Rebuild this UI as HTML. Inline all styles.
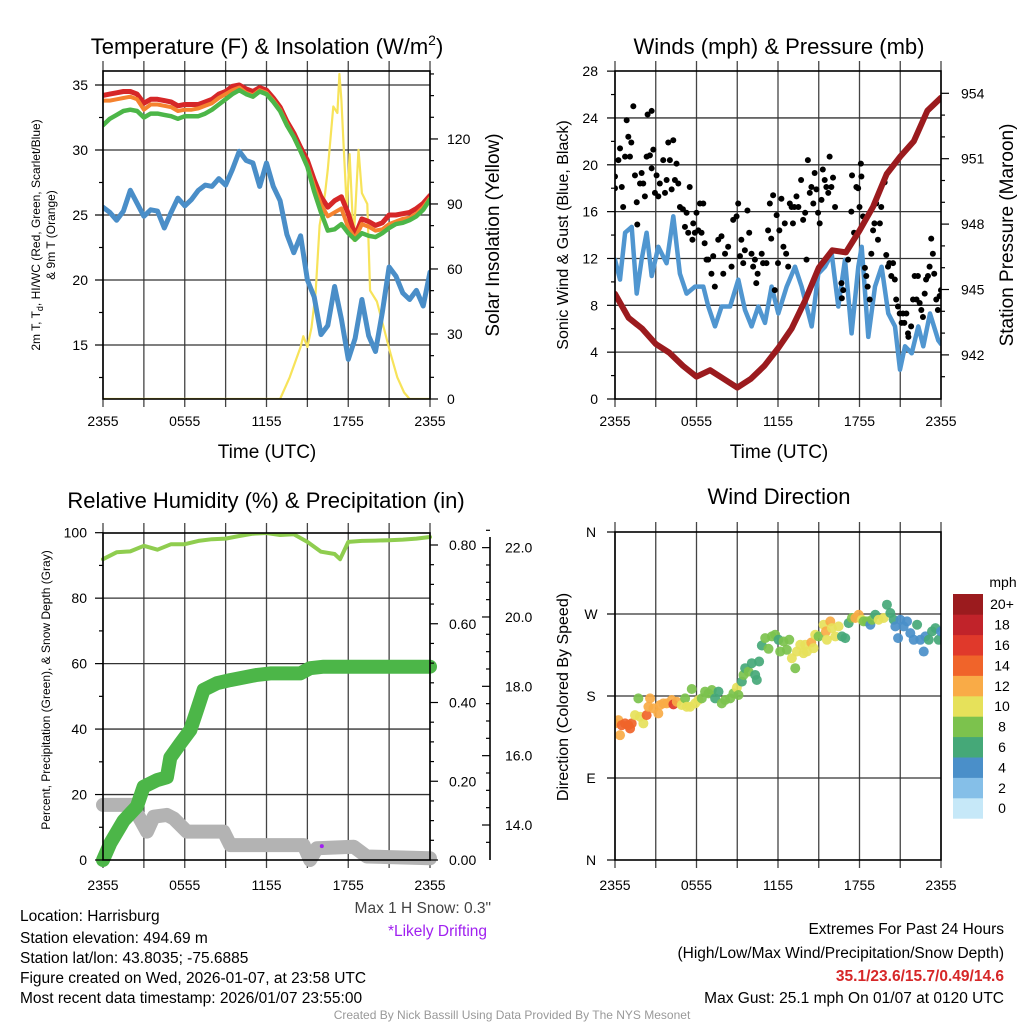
<!DOCTYPE html>
<html><head><meta charset="utf-8"><style>
html,body{margin:0;padding:0;background:#fff;}
svg{display:block;font-family:"Liberation Sans",sans-serif;}
</style></head><body>
<svg id="chart" width="1024" height="1024" viewBox="0 0 1024 1024" xmlns="http://www.w3.org/2000/svg">
<defs>
<clipPath id="c1"><rect x="103" y="71" width="327" height="328"/></clipPath>
<clipPath id="c2"><rect x="615" y="71" width="326" height="328"/></clipPath>
<clipPath id="c3"><rect x="90" y="533" width="355" height="335"/></clipPath>
<clipPath id="c4"><rect x="615" y="532" width="326" height="328"/></clipPath>
</defs>
<g id="g1"></g>
<g id="g2"></g>
<g id="g3"></g>
<g id="g4"></g>
<g font-size="22" text-anchor="middle" fill="#000">
<text x="267" y="54">Temperature (F) &amp; Insolation (W/m<tspan font-size="14" dy="-9">2</tspan><tspan dy="9">)</tspan></text>
<text x="779" y="54">Winds (mph) &amp; Pressure (mb)</text>
<text x="266" y="508">Relative Humidity (%) &amp; Precipitation (in)</text>
<text x="779" y="504">Wind Direction</text>
</g>
<g font-size="19" text-anchor="middle">
<text x="267" y="458">Time (UTC)</text>
<text x="779" y="458">Time (UTC)</text>
<text transform="translate(499,235) rotate(-90)">Solar Insolation (Yellow)</text>
<text transform="translate(1013,235) rotate(-90)">Station Pressure (Maroon)</text>
</g>
<g font-size="16" text-anchor="middle">
<text transform="translate(568,235) rotate(-90)">Sonic Wind &amp; Gust (Blue, Black)</text>
<text transform="translate(568,697) rotate(-90)">Direction (Colored By Speed)</text>
</g>
<g font-size="12" text-anchor="middle">
<text transform="translate(40,235) rotate(-90)">2m T, T<tspan font-size="9" dy="3">d</tspan><tspan dy="-3">, HI/WC (Red, Green, Scarlet/Blue)</tspan></text>
<text transform="translate(55,235) rotate(-90)">&amp; 9m T (Orange)</text>
<text transform="translate(50,690) rotate(-90)">Percent, Precipitation (Green), &amp; Snow Depth (Gray)</text>
</g>
<g font-size="15.5" fill="#000">
<text x="20" y="921">Location: Harrisburg</text>
<text x="20" y="943">Station elevation: 494.69 m</text>
<text x="20" y="963">Station lat/lon: 43.8035; -75.6885</text>
<text x="20" y="983">Figure created on Wed, 2026-01-07, at 23:58 UTC</text>
<text x="20" y="1003">Most recent data timestamp: 2026/01/07 23:55:00</text>
<text x="491" y="913" text-anchor="end" fill="#444">Max 1 H Snow: 0.3"</text>
<text x="487" y="936" text-anchor="end" fill="#a020f0">*Likely Drifting</text>
<text x="1004" y="934" text-anchor="end">Extremes For Past 24 Hours</text>
<text x="1004" y="958" text-anchor="end">(High/Low/Max Wind/Precipitation/Snow Depth)</text>
<text x="1004" y="981" text-anchor="end" fill="#d62728" font-weight="bold">35.1/23.6/15.7/0.49/14.6</text>
<text x="1004" y="1003" text-anchor="end">Max Gust: 25.1 mph On 01/07 at 0120 UTC</text>
</g>
<text x="512" y="1019" font-size="12" text-anchor="middle" fill="#999">Created By Nick Bassill Using Data Provided By The NYS Mesonet</text>
</svg>
<script>
// ---- Temperature panel data ----
const tempHours = [0,0.5,1,1.5,2,2.5,3,3.5,4,4.5,5,5.5,6,6.5,7,7.5,8,8.5,9,9.5,10,10.5,11,11.5,12,12.5,13,13.5,14,14.5,15,15.5,16,16.5,17,17.5,18,18.5,19,19.5,20,20.5,21,21.5,22,22.5,23,23.5,24];
const temp2m = [34.2,34.3,34.4,34.5,34.5,34.3,33.6,33.9,33.9,33.8,33.7,33.4,33.5,33.5,33.5,33.7,33.9,34.3,34.5,34.9,35.0,34.7,34.5,34.8,34.6,34.0,33.3,32.2,31.3,30.2,29.2,27.7,26.4,25.6,26.1,26.4,25.1,23.4,24.7,24.5,24.2,24.4,25.0,25.0,25.1,25.2,25.5,25.9,26.5];
const temp9m = [33.8,33.8,33.9,34.0,34.1,33.9,33.1,33.5,33.5,33.4,33.3,33.0,33.1,33.1,33.2,33.4,33.6,34.0,34.3,34.6,34.8,34.4,34.2,34.6,34.4,33.8,33.1,32.0,31.0,29.9,28.8,27.2,25.8,24.9,25.2,25.5,24.0,23.2,24.3,24.1,23.8,23.9,24.3,24.5,24.7,24.8,25.1,25.6,26.3];
const windChill = [31.9,32.4,32.7,33.0,33.1,33.0,32.5,32.8,32.8,32.7,32.6,32.4,32.6,32.6,32.6,32.8,33.1,33.5,33.9,34.3,34.6,34.3,34.1,34.5,34.3,33.7,33.0,31.9,31.0,29.9,28.7,26.8,25.2,23.8,23.9,24.3,23.6,23.1,23.6,23.4,23.3,23.6,24.0,24.3,24.4,24.6,24.9,25.4,26.2];
const dewPoint = [25.6,25.2,24.6,25.3,26.9,25.9,24.9,25.4,25.3,24.0,25.2,26.3,25.7,26.2,26.9,27.3,27.2,27.8,27.3,28.5,29.9,29.2,29.0,27.2,29.0,27.2,26.1,23.5,22.1,23.4,20.0,18.7,15.8,16.5,19.5,17.0,13.9,15.5,18.5,15.7,14.5,17.5,21.0,20.3,19.0,18.5,19.2,18.0,20.6];
const solarHours = [0,13,13.7,14.5,14.7,15.0,15.3,15.6,15.9,16.3,16.5,16.9,17.2,17.35,17.5,17.65,17.9,18.1,18.4,18.75,19.0,19.4,19.6,20.1,20.6,21.1,21.6,22.1,22.5,24];
const solarValues = [0,0,10,24,29,24,33,49,80,95,106,135,132,150,138,118,87,113,73,115,95,90,50,45,33,21,10,3,0,0];
const tempTicks = [15,20,25,30,35];
const solarTicks = [0,30,60,90,120];
const timeTickLabels = ["2355","0555","1155","1755","2355"];
const timeTickHours = [0,6,12,18,24];
// ---- Winds panel data ----
const windHours = [0,0.37,0.74,1.23,1.6,1.96,2.33,2.7,3.19,3.8,4.29,4.78,5.27,5.89,6.5,6.87,7.36,7.85,8.47,9.08,9.57,10.06,10.55,11.04,11.53,12.02,12.64,13.25,13.74,14.48,14.97,15.46,15.95,16.44,16.93,17.42,17.91,18.16,18.65,19.14,19.63,20.12,20.61,20.98,21.35,21.84,22.33,22.7,23.19,23.8,24];
const windSpeed = [11.9,10.2,14.2,14.7,9.0,11.9,14.2,10.5,13.0,11.6,15.6,10.7,9.0,9.6,9.6,7.9,6.2,7.9,7.9,10.2,7.6,6.2,7.9,6.5,9.6,7.3,9.6,11.3,9.6,6.2,10.7,11.3,12.4,7.9,11.9,5.6,11.3,13.0,5.3,9.6,11.3,7.3,6.2,2.5,4.5,3.9,6.2,4.5,7.3,5.0,4.7];
const gustHours = [0,0,0.25,0.37,0.5,0.6,0.74,0.86,0.98,1.1,1.2,1.35,1.47,1.6,1.64,1.84,1.96,2.08,2.2,2.33,2.4,2.57,2.7,2.82,2.7,2.94,3.06,3.19,3.3,3.55,3.68,3.8,3.92,4.04,4.17,4.29,4.41,4.53,4.66,4.78,5.0,5.15,5.27,5.39,5.5,5.7,5.76,5.88,6.0,6.13,6.25,6.37,6.5,6.6,6.74,6.86,7.1,7.23,7.35,7.6,7.84,7.97,8.1,8.33,8.58,8.7,8.95,9.07,9.2,9.3,9.44,9.56,9.75,9.88,10.05,10.17,10.3,10.4,10.5,10.8,10.9,11.15,11.27,11.4,11.5,11.64,11.76,11.9,12.0,12.1,12.25,12.4,12.5,12.6,12.75,12.87,13.0,13.1,13.2,13.36,13.5,13.7,13.85,14.0,14.1,14.2,14.34,14.46,14.6,14.7,14.83,14.95,15.07,15.2,15.3,15.44,15.56,15.7,15.8,15.93,16.05,16.2,16.67,16.7,16.8,17.16,17.4,17.45,17.6,17.77,17.9,18.0,18.1,18.14,18.26,18.4,18.5,18.6,18.75,18.87,19.0,19.1,19.23,19.36,19.5,19.6,19.85,19.97,20.1,20.2,20.34,20.47,20.6,20.7,20.83,20.96,21.1,21.2,21.3,21.45,21.57,21.6,21.8,21.94,22.06,22.2,22.3,22.43,22.55,22.67,22.8,22.9,23.04,23.16,23.28,23.4,23.5,23.65,23.77,23.9,24.0];
const gustSpeed = [19.0,18.0,20.4,21.4,18.1,16.4,20.7,23.8,22.4,20.7,21.9,25.0,19.1,16.8,14.9,18.4,19.3,18.4,17.3,20.7,24.3,20.8,19.7,21.3,24.6,17.6,19.1,17.3,18.4,20.4,17.6,18.7,21.9,20.4,17.9,22.1,18.7,20.1,18.4,16.4,16.2,14.7,15.9,14.2,18.1,13.6,15.0,14.2,15.9,14.4,16.7,14.2,16.7,13.3,11.9,11.9,10.7,12.2,9.6,13.6,13.9,10.7,12.4,13.0,11.3,15.3,15.6,16.7,12.2,13.6,11.6,12.7,16.1,14.2,12.4,11.3,11.9,9.9,10.7,12.4,11.6,11.6,14.4,16.7,13.7,17.4,9.3,15.7,11.6,14.4,17.1,13.0,15.0,12.4,11.3,16.7,16.4,15.0,16.4,17.3,16.4,18.7,15.3,15.9,11.9,20.4,17.6,18.1,16.7,19.3,17.9,15.9,15.0,17.0,19.6,18.7,18.1,17.6,20.7,18.1,18.9,16.4,9.9,8.6,9.3,11.9,16.0,19.1,14.2,18.1,18.0,16.4,20.1,19.0,15.6,11.2,10.5,9.6,8.5,12.4,14.4,15.0,16.7,13.6,15.0,16.4,18.5,12.3,11.3,11.6,10.5,11.6,10.2,8.5,7.9,7.3,6.5,7.3,6.5,7.3,5.6,5.3,6.2,8.5,10.5,8.5,10.5,8.2,7.6,7.0,9.0,10.2,10.5,11.3,13.7,12.4,10.7,8.5,7.6,8.8,9.3];
const pressHours = [0,1,2,3,4,5,6,7,8,9,10,11,12,13,14,15,16,17,18,19,20,21,22,23,24];
const pressure = [944.8,943.7,943.2,942.5,942.1,941.5,941.0,941.3,940.9,940.5,940.9,941.5,942.3,943.2,944.5,946.0,946.8,946.7,947.7,948.8,950.3,951.1,951.8,953.2,953.8];
const windTicks = [0,4,8,12,16,20,24,28];
const pressTicks = [942,945,948,951,954];
// ---- Humidity panel data ----
const rhHours = [0,1,2,3,4,5,6,7,8,9,10,11,12,13,14,15,16,17,17.4,18,19,20,21,22,23,24];
const rhValues = [91.9,94.0,94.3,96.0,94.8,96.5,96.5,97.5,98.0,98.2,99.0,99.7,99.9,99.3,99.5,97.2,94.2,93.5,91.9,97.2,97.5,97.6,97.7,97.9,98.2,98.7];
const precipHours = [0,0.54,1.52,2.49,2.98,3.96,4.69,4.94,5.67,6.41,6.89,7.38,8.36,9.34,11.3,12.27,14.47,15.2,16.2,24];
const precipValues = [0,0.043,0.1,0.136,0.186,0.203,0.21,0.26,0.296,0.33,0.38,0.432,0.449,0.457,0.47,0.474,0.474,0.487,0.491,0.491];
const snowHours = [0,2.25,2.49,3.23,3.72,4.69,5.18,6.16,8.85,9.34,14.72,15.2,15.7,18.4,19.36,24];
const snowDepth = [14.58,14.58,14.34,13.81,14.24,14.29,14.19,13.81,13.81,13.42,13.42,12.99,13.33,13.37,13.09,13.04];
const driftHours = [16.06];
const driftDepth = [13.39];
const pctTicks = [0,20,40,60,80,100];
const precipTicks = [0,0.2,0.4,0.6,0.8];
const precipTickLabels = ["0.00","0.20","0.40","0.60","0.80"];
const snowTicks = [14,16,18,20,22];
const snowTickLabels = ["14.0","16.0","18.0","20.0","22.0"];
// ---- Wind direction data ----
const dirHours = [0,.25,.37,.49,.74,.98,1.11,1.23,1.47,1.72,1.84,2.09,2.33,2.46,2.58,2.83,3.19,3.32,3.56,3.81,4.18,4.3,4.55,4.91,5.16,5.28,5.53,5.65,5.9,6.14,6.39,6.63,6.88,7.13,7.37,7.62,7.86,8.11,8.48,8.72,8.97,9.09,9.34,9.46,9.58,9.83,10.07,10.32,10.44,10.61,10.81,11.06,11.3,11.55,11.79,12.04,12.16,12.41,12.65,12.83,13.02,13.27,13.39,13.64,13.88,14.0,14.13,14.45,14.62,14.74,14.99,15.36,15.53,15.6,15.85,15.97,16.22,16.46,16.71,16.95,17.2,17.44,17.69,17.94,18.18,18.3,18.55,18.8,18.92,19.16,19.41,19.78,20.02,20.27,20.52,20.64,20.84,21.01,21.25,21.5,21.74,21.99,22.24,22.48,22.73,22.85,23.1,23.34,23.59,23.83,24];
const dirDegrees = [149.9,153.5,137,148,149.9,148,144.3,149.9,159,177.4,157.2,149.9,159,168.2,177.4,166.4,160.9,170.1,171.9,171.9,175.6,170.8,173.7,170.1,177.4,168.2,168.2,187.7,171.9,175.6,177.4,184.8,182.9,186.6,177.4,184.8,171.9,175.6,177.4,182.9,189.2,181.1,195.8,203.1,210.5,206.8,216,203.1,197.6,217.8,235.4,243.5,231.8,245.4,247.2,241.7,228.8,239.8,230.7,241.7,221.5,210.5,228.8,236.2,227,236.2,228.8,238.7,232.5,247.2,245.4,258.2,250.9,241.7,261.9,254.5,245.4,256.4,245.4,243.5,260,265.6,265.6,269.2,263.7,261.9,261.9,258.2,263.7,269.2,263.7,265.6,280.2,271.1,263.7,256.4,243.5,263.7,256.4,261.9,249,241.7,258.2,241.7,228.8,245.4,241.7,250.9,254.5,241.7,250.9];
const dirSpeed = [12,12,12,14,14,14,14,14,10,8,10,10,14,12,12,12,12,12,12,12,12,16,12,10,8,10,10,8,10,10,8,8,8,8,6,6,8,8,8,8,10,8,6,8,6,8,6,6,6,6,6,8,8,8,8,6,8,8,8,8,10,8,10,10,10,10,10,12,10,10,8,10,12,10,12,10,10,10,6,6,6,8,12,12,10,8,8,4,8,6,10,10,6,6,6,4,4,4,4,4,4,4,6,4,4,4,6,6,6,6,4];
const dirTicks = [0,90,180,270,360];
const dirTickLabels = ["N","E","S","W","N"];
const speedBins = [0,2,4,6,8,10,12,14,16,18,20];
const speedBinLabels = ["0","2","4","6","8","10","12","14","16","18","20+"];
const speedColors = ["#c6e8f8","#85bfe8","#4a8fc9","#45a878","#7cc24d","#e6e15a","#f9ab47","#f0642a","#e0392b","#c1232a","#9b1b1e"];

const NS = "http://www.w3.org/2000/svg";
function mk(parent, tag, attrs, name) {
  const el = document.createElementNS(NS, tag);
  for (const k in attrs) el.setAttribute(k, attrs[k]);
  
  
  parent.appendChild(el);
  return el;
}
function txt(parent, x, y, s, size, anchor, name, fill) {
  const el = mk(parent, 'text', {x:x, y:y, 'font-size':size, 'text-anchor':anchor, fill:fill||'#000'}, name);
  el.textContent = s;
  return el;
}
function pathD(xs, ys, fx, fy) {
  let d = '';
  for (let i = 0; i < xs.length; i++) d += (i ? 'L' : 'M') + fx(xs[i]).toFixed(1) + ',' + fy(ys[i]).toFixed(1);
  return d;
}
function frame(g, x0, y0, x1, y1, fx, hGrid, fy, name) {
  for (let h = 0; h <= 24; h += 3) {
    mk(g, 'line', {x1:fx(h), x2:fx(h), y1:y0-10, y2:y1+8, stroke:'#444', 'stroke-width':1.3}, name + '-vgrid');
  }
  hGrid.forEach(v => {
    mk(g, 'line', {x1:x0, x2:x1, y1:fy(v), y2:fy(v), stroke:'#333', 'stroke-width':1.3}, name + '-hgrid');
  });
}
function box(g, x0, y0, x1, y1, name) {
  mk(g, 'rect', {x:x0, y:y0, width:x1-x0, height:y1-y0, fill:'none', stroke:'#000', 'stroke-width':1.6}, name + '-frame');
}
function xLabels(g, fx, y, name) {
  timeTickHours.forEach((h, i) => txt(g, fx(h), y, timeTickLabels[i], 14, 'middle', name + '-x-tick-label'));
}
function yTicks(g, x, vals, fy, dir, len, name) {
  vals.forEach(v => mk(g, 'line', {x1:x, x2:x + dir*len, y1:fy(v), y2:fy(v), stroke:'#000', 'stroke-width':1.2}, name));
}

// ===== Panel 1 =====
(function(){
  const g = document.getElementById('g1');
  const x0=103,x1=430,y0=71,y1=399;
  const fx = t => x0 + t/24*(x1-x0);
  const fy = v => 85 + (35-v)*13;
  const fi = w => 399 - w*2.167;
  frame(g,x0,y0,x1,y1,fx,tempTicks,fy,'temp');
  const c = mk(g,'g',{'clip-path':'url(#c1)'},'temp-series');
  mk(c,'path',{d:pathD(solarHours,solarValues,fx,fi),fill:'none',stroke:'#f7e35a','stroke-width':2.2,'stroke-linejoin':'round'},'solar-insolation-line');
  mk(c,'path',{d:pathD(tempHours,dewPoint,fx,fy),fill:'none',stroke:'#4a8ec8','stroke-width':5,'stroke-linejoin':'round','stroke-linecap':'round'},'dewpoint-line');
  mk(c,'path',{d:pathD(tempHours,temp2m,fx,fy),fill:'none',stroke:'#d62728','stroke-width':5,'stroke-linejoin':'round','stroke-linecap':'round'},'temp-2m-line');
  mk(c,'path',{d:pathD(tempHours,temp9m,fx,fy),fill:'none',stroke:'#f5822e','stroke-width':4,'stroke-linejoin':'round','stroke-linecap':'round'},'temp-9m-line');
  mk(c,'path',{d:pathD(tempHours,windChill,fx,fy),fill:'none',stroke:'#4cb648','stroke-width':4.5,'stroke-linejoin':'round','stroke-linecap':'round'},'wind-chill-line');
  box(g,x0,y0,x1,y1,'temp');
  yTicks(g,x0,tempTicks,fy,-1,8,'temp-major-tick');
  yTicks(g,x0,[12.5,17.5,22.5,27.5,32.5],fy,-1,4,'temp-minor-tick');
  tempTicks.forEach(v => txt(g,88,fy(v)+5,String(v),14,'end','temp-tick-label'));
  yTicks(g,x1,solarTicks,fi,1,8,'solar-major-tick');
  yTicks(g,x1,[10,20,40,50,70,80,100,110,130,140,150],fi,1,4,'solar-minor-tick');
  solarTicks.forEach(v => txt(g,447,fi(v)+5,String(v),14,'start','solar-tick-label'));
  xLabels(g,fx,426,'temp');
})();

// ===== Panel 2 =====
(function(){
  const g = document.getElementById('g2');
  const x0=615,x1=941,y0=71,y1=399;
  const fx = t => x0 + t/24*(x1-x0);
  const fy = v => 399 - v*11.71;
  const fp = p => 93.3 + (954-p)*21.8;
  frame(g,x0,y0,x1,y1,fx,windTicks.slice(1,-1),fy,'winds');
  const c = mk(g,'g',{'clip-path':'url(#c2)'},'winds-series');
  mk(c,'path',{d:pathD(windHours,windSpeed,fx,fy),fill:'none',stroke:'#5096d0','stroke-width':4.5,'stroke-linejoin':'round','stroke-linecap':'round'},'sonic-wind-line');
  gustHours.forEach((h,i) => {
    mk(c,'circle',{cx:fx(h),cy:fy(gustSpeed[i]),r:3,fill:'#000'},'gust-point');
  });
  mk(c,'path',{d:pathD(pressHours,pressure,fx,fp),fill:'none',stroke:'#9b1b1e','stroke-width':6,'stroke-linejoin':'round','stroke-linecap':'round'},'pressure-line');
  box(g,x0,y0,x1,y1,'winds');
  yTicks(g,x0,windTicks,fy,-1,8,'wind-major-tick');
  yTicks(g,x0,[2,6,10,14,18,22,26],fy,-1,4,'wind-minor-tick');
  windTicks.forEach(v => txt(g,598,fy(v)+5,String(v),14,'end','wind-tick-label'));
  yTicks(g,x1,pressTicks,fp,1,8,'pressure-major-tick');
  yTicks(g,x1,[941,943,944,946,947,949,950,952,953],fp,1,4,'pressure-minor-tick');
  pressTicks.forEach(v => txt(g,961,fp(v)+5,String(v),14,'start','pressure-tick-label'));
  xLabels(g,fx,426,'winds');
})();

// ===== Panel 3 =====
(function(){
  const g = document.getElementById('g3');
  const x0=103,x1=430,y0=533,y1=860;
  const fx = t => x0 + t/24*(x1-x0);
  const fy = v => 860 - v*3.273;
  const fpr = v => 860 - v*393.75;
  const fs = s => 825 - (s-14)*34.67;
  frame(g,x0,y0,x1,y1,fx,[20,40,60,80],fy,'humidity');
  const c = mk(g,'g',{'clip-path':'url(#c3)'},'humidity-series');
  mk(c,'path',{d:pathD(snowHours,snowDepth,fx,fs),fill:'none',stroke:'#b3b3b3','stroke-width':14,'stroke-linejoin':'round','stroke-linecap':'round'},'snow-depth-line');
  mk(c,'path',{d:pathD(precipHours,precipValues,fx,fpr),fill:'none',stroke:'#4cb648','stroke-width':14,'stroke-linejoin':'round','stroke-linecap':'round'},'precip-line');
  mk(c,'path',{d:pathD(rhHours,rhValues,fx,fy),fill:'none',stroke:'#8fcd4f','stroke-width':4,'stroke-linejoin':'round','stroke-linecap':'round'},'rh-line');
  driftHours.forEach((h,i) => {
    mk(c,'circle',{cx:fx(h),cy:fs(driftDepth[i]),r:2,fill:'#a020f0'},'drift-marker');
  });
  box(g,x0,y0,x1,y1,'humidity');
  yTicks(g,x0,pctTicks,fy,-1,8,'pct-major-tick');
  yTicks(g,x0,[10,30,50,70,90],fy,-1,4,'pct-minor-tick');
  pctTicks.forEach(v => txt(g,87,fy(v)+5,String(v),14,'end','pct-tick-label'));
  yTicks(g,x1,precipTicks,fpr,1,8,'precip-major-tick');
  yTicks(g,x1,[0.05,0.1,0.15,0.25,0.3,0.35,0.45,0.5,0.55,0.65,0.7,0.75],fpr,1,4,'precip-minor-tick');
  precipTicks.forEach((v,i) => txt(g,449,fpr(v)+5,precipTickLabels[i],14,'start','precip-tick-label'));
  mk(g,'line',{x1:490,x2:490,y1:537,y2:860,stroke:'#000','stroke-width':1.6},'snow-axis-line');
  yTicks(g,490,snowTicks,fs,-1,8,'snow-major-tick');
  yTicks(g,490,[13.5,14.5,15,15.5,16.5,17,17.5,18.5,19,19.5,20.5,21,21.5,22.5],fs,-1,4,'snow-minor-tick');
  snowTicks.forEach((v,i) => txt(g,505,fs(v)+5,snowTickLabels[i],14,'start','snow-tick-label'));
  xLabels(g,fx,890,'humidity');
})();

// ===== Panel 4 =====
(function(){
  const g = document.getElementById('g4');
  const x0=615,x1=941,y0=532,y1=860;
  const fx = t => x0 + t/24*(x1-x0);
  const fy = d => 860 - d*(328/360);
  frame(g,x0,y0,x1,y1,fx,[90,180,270],fy,'direction');
  const c = mk(g,'g',{'clip-path':'url(#c4)'},'direction-series');
  dirHours.forEach((h,i) => {
    const bi = Math.min(10, Math.max(0, Math.round(dirSpeed[i]/2)));
    mk(c,'circle',{cx:fx(h),cy:fy(dirDegrees[i]),r:5,fill:speedColors[bi],'fill-opacity':0.92},'direction-point');
  });
  box(g,x0,y0,x1,y1,'direction');
  yTicks(g,x0,dirTicks,fy,-1,8,'direction-tick');
  dirTicks.forEach((v,i) => txt(g,591,fy(v)+5,dirTickLabels[i],14,'middle','direction-tick-label'));
  xLabels(g,fx,890,'direction');
  // colorbar
  const cb = mk(g,'g',{},'speed-colorbar');
  const top=594, bh=20.4;
  speedBins.forEach((b,i) => {
    const k = speedBins.length-1-i;
    mk(cb,'rect',{x:953,y:top+k*bh,width:30,height:bh+0.3,fill:speedColors[i]},'colorbar-bin');
    txt(cb,1002,top+k*bh+bh/2+5,speedBinLabels[i],14,'middle','colorbar-label');
  });
  txt(cb,1003,587,'mph',14,'middle','colorbar-title');
})();
</script>
</body></html>
